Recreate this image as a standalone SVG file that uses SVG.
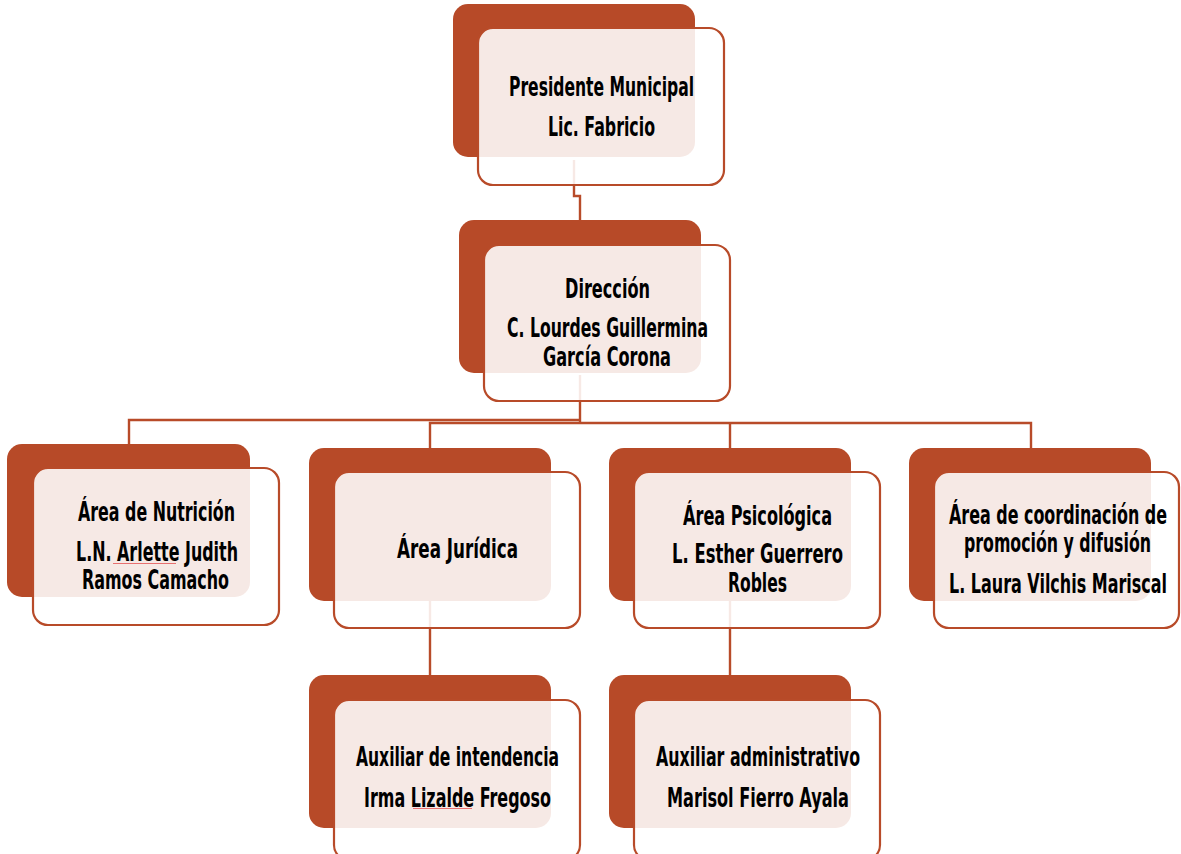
<svg xmlns="http://www.w3.org/2000/svg" width="1181" height="854" viewBox="0 0 1181 854">
<style>
.back{fill:#B74A28;}
.front{fill:#FFFFFF;fill-opacity:0.88;stroke:#B84B29;stroke-width:2.2;}
.conn{fill:none;stroke:#B84B29;stroke-width:2.4;}
.t{font-family:"Liberation Sans Narrow","DejaVu Sans Condensed","DejaVu Sans",sans-serif;font-stretch:condensed;font-weight:bold;font-size:26px;fill:#000;}
.sq{stroke:#E87070;stroke-width:1;}
</style>
<rect width="1181" height="854" fill="#FFFFFF"/>
<g id="connectors">
<polyline class="conn" points="574,160 574,196 580,196 580,220"/>
<polyline class="conn" points="580,375 580,423"/>
<polyline class="conn" points="129,444 129,420 580,420"/>
<polyline class="conn" points="430,448 430,423 1031,423 1031,448"/>
<line class="conn" x1="730" y1="423" x2="730" y2="448"/>
<line class="conn" x1="430" y1="600" x2="430" y2="675"/>
<line class="conn" x1="730" y1="600" x2="730" y2="675"/>
</g>
<g id="presidente">
<rect class="back" x="453" y="4" width="242" height="153" rx="15"/>
<rect class="front" x="478" y="28" width="246" height="157" rx="15"/>
<text class="t" x="509" y="96" textLength="185" lengthAdjust="spacingAndGlyphs">Presidente Municipal</text>
<text class="t" x="548" y="136" textLength="107" lengthAdjust="spacingAndGlyphs">Lic. Fabricio</text>
</g>
<g id="direccion">
<rect class="back" x="459" y="220" width="242" height="153" rx="15"/>
<rect class="front" x="484" y="245" width="246" height="156" rx="15"/>
<text class="t" x="565" y="298" textLength="85" lengthAdjust="spacingAndGlyphs">Dirección</text>
<text class="t" x="507" y="337" textLength="201" lengthAdjust="spacingAndGlyphs">C. Lourdes Guillermina</text>
<text class="t" x="543" y="366" textLength="128" lengthAdjust="spacingAndGlyphs">García Corona</text>
</g>
<g id="nutricion">
<rect class="back" x="7" y="444" width="243" height="153" rx="15"/>
<rect class="front" x="33" y="468" width="246" height="157" rx="15"/>
<text class="t" x="78" y="521" textLength="157" lengthAdjust="spacingAndGlyphs">Área de Nutrición</text>
<text class="t" x="76" y="561" textLength="162" lengthAdjust="spacingAndGlyphs">L.N. Arlette Judith</text>
<text class="t" x="82" y="589" textLength="147" lengthAdjust="spacingAndGlyphs">Ramos Camacho</text>
<line class="sq" x1="113" y1="563.5" x2="176" y2="563.5"/>
</g>
<g id="juridica">
<rect class="back" x="309" y="448" width="242" height="153" rx="15"/>
<rect class="front" x="334" y="472" width="246" height="156" rx="15"/>
<text class="t" x="397" y="558" textLength="121" lengthAdjust="spacingAndGlyphs">Área Jurídica</text>
</g>
<g id="psicologica">
<rect class="back" x="609" y="448" width="242" height="153" rx="15"/>
<rect class="front" x="634" y="472" width="246" height="156" rx="15"/>
<text class="t" x="683" y="525" textLength="149" lengthAdjust="spacingAndGlyphs">Área Psicológica</text>
<text class="t" x="672" y="563" textLength="171" lengthAdjust="spacingAndGlyphs">L. Esther Guerrero</text>
<text class="t" x="728" y="592" textLength="59" lengthAdjust="spacingAndGlyphs">Robles</text>
</g>
<g id="coordinacion">
<rect class="back" x="909" y="448" width="242" height="153" rx="15"/>
<rect class="front" x="934" y="472" width="245" height="156" rx="15"/>
<text class="t" x="949" y="524" textLength="218" lengthAdjust="spacingAndGlyphs">Área de coordinación de</text>
<text class="t" x="964" y="552" textLength="187" lengthAdjust="spacingAndGlyphs">promoción y difusión</text>
<text class="t" x="949" y="593" textLength="218" lengthAdjust="spacingAndGlyphs">L. Laura Vilchis Mariscal</text>
</g>
<g id="aux-intendencia">
<rect class="back" x="309" y="675" width="242" height="153" rx="15"/>
<rect class="front" x="334" y="700" width="246" height="160" rx="15"/>
<text class="t" x="356" y="766" textLength="203" lengthAdjust="spacingAndGlyphs">Auxiliar de intendencia</text>
<text class="t" x="364" y="807" textLength="187" lengthAdjust="spacingAndGlyphs">Irma Lizalde Fregoso</text>
<line class="sq" x1="413" y1="808.5" x2="472" y2="808.5"/>
</g>
<g id="aux-administrativo">
<rect class="back" x="609" y="675" width="242" height="153" rx="15"/>
<rect class="front" x="634" y="700" width="246" height="160" rx="15"/>
<text class="t" x="656" y="766" textLength="204" lengthAdjust="spacingAndGlyphs">Auxiliar administrativo</text>
<text class="t" x="667" y="807" textLength="182" lengthAdjust="spacingAndGlyphs">Marisol Fierro Ayala</text>
</g>
</svg>
